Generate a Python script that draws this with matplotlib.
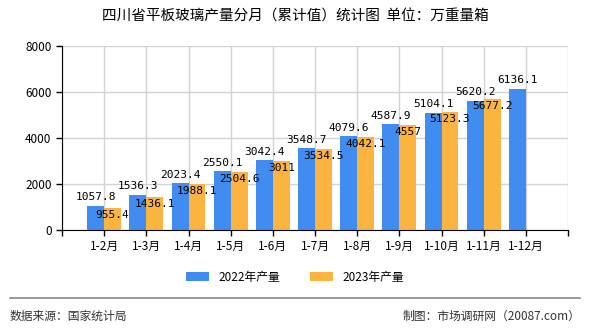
import matplotlib.pyplot as plt
import numpy as np

plt.rcParams['font.family'] = ['Noto Sans CJK SC', 'DejaVu Sans']

months = ["1-2月", "1-3月", "1-4月", "1-5月", "1-6月", "1-7月",
          "1-8月", "1-9月", "1-10月", "1-11月", "1-12月"]
prod_2022 = [1057.8, 1536.3, 2023.4, 2550.1, 3042.4, 3548.7,
             4079.6, 4587.9, 5104.1, 5620.2, 6136.1]
prod_2023 = [955.4, 1436.1, 1988.1, 2504.6, 3011, 3534.5,
             4042.1, 4557, 5123.3, 5677.2]
labels_2022 = ["1057.8", "1536.3", "2023.4", "2550.1", "3042.4", "3548.7",
               "4079.6", "4587.9", "5104.1", "5620.2", "6136.1"]
labels_2023 = ["955.4", "1436.1", "1988.1", "2504.6", "3011", "3534.5",
               "4042.1", "4557", "5123.3", "5677.2"]

blue = "#418cf0"
orange = "#fcb441"
w = 0.4

fig = plt.figure(figsize=(5.9, 3.3), dpi=100)
ax = fig.add_axes([62 / 590, 1 - 230 / 330, 506 / 590, 184 / 330])

x1 = np.arange(1, len(prod_2022) + 1)
x2 = np.arange(1, len(prod_2023) + 1)
ax.bar(x1 - w / 2, prod_2022, w, color=blue, label="2022年产量", zorder=2)
ax.bar(x2 + w / 2, prod_2023, w, color=orange, label="2023年产量", zorder=2)

for x, v, s in zip(x1, prod_2022, labels_2022):
    ax.text(x - w / 2, v + 150, s, ha="center", va="bottom",
            fontsize=8, family="DejaVu Sans Mono", zorder=3)
for x, v, s in zip(x2, prod_2023, labels_2023):
    ax.text(x + w / 2, v - 80, s, ha="center", va="top",
            fontsize=8, family="DejaVu Sans Mono", zorder=3)

ax.set_xlim(0, 12)
ax.set_ylim(0, 8000)
ax.set_xticks(np.arange(0, 13))
ax.set_xticklabels([""] + months + [""], fontsize=8.5)
ax.set_yticks([0, 2000, 4000, 6000, 8000])
ax.set_yticklabels(["0", "2000", "4000", "6000", "8000"], fontsize=8.5)
ax.grid(True, color="#d3d3d3", linewidth=1, zorder=0)
ax.spines["top"].set_visible(False)
ax.spines["right"].set_visible(False)
ax.tick_params(direction="out", length=4, width=1)

fig.text(0.5, 1 - 17 / 330, "四川省平板玻璃产量分月（累计值）统计图  单位：万重量箱",
         ha="center", va="center", fontsize=10.5)

fig.legend(loc="center", bbox_to_anchor=(0.5, 1 - 277 / 330), ncol=2,
           frameon=False, fontsize=8.5, handlelength=2, handleheight=0.9,
           columnspacing=2.5)

fig.add_artist(plt.Line2D([10 / 590, 580 / 590], [1 - 298 / 330, 1 - 298 / 330],
                          color="#888888", linewidth=1.2))
fig.text(10 / 590, 1 - 316 / 330, "数据来源：国家统计局", ha="left", va="center",
         fontsize=8.5, color="#333333")
fig.text(580 / 590, 1 - 316 / 330, "制图：市场调研网（20087.com）", ha="right",
         va="center", fontsize=8.5, color="#333333")

fig.savefig("out.png", dpi=100)
